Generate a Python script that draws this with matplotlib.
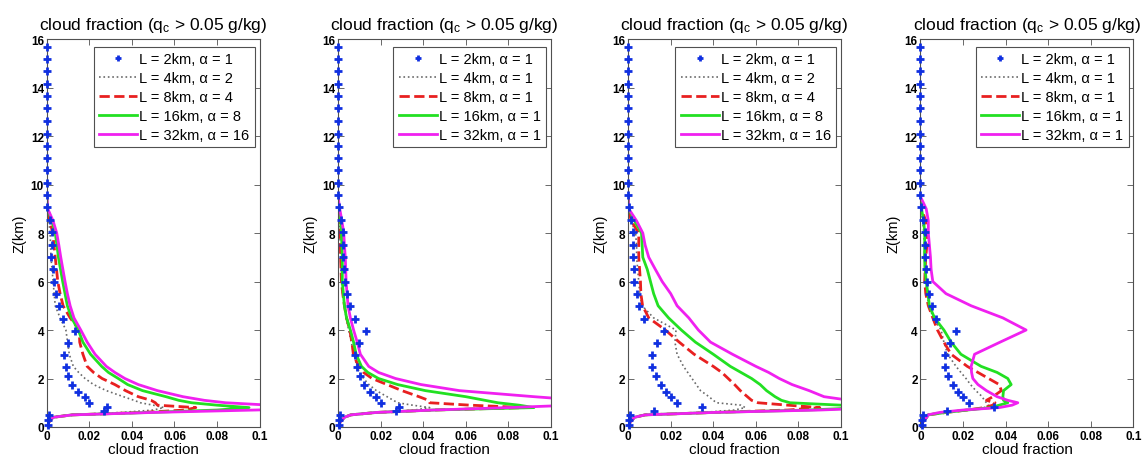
import matplotlib
matplotlib.use('Agg')
import matplotlib.pyplot as plt

plt.rcParams['font.family'] = ['Liberation Sans', 'DejaVu Sans']
plt.rcParams['mathtext.default'] = 'regular'

# heights (km) of the line profiles
z_line = [0.0, 0.2, 0.4, 0.5, 0.6, 0.7, 0.8, 0.9, 1.0, 1.1, 1.25, 1.5, 1.75, 2.0, 2.25,
          2.5, 3.0, 3.5, 4.0, 4.5, 5.0, 5.5, 6.0, 6.5, 7.0, 7.5, 8.0, 8.5, 9.0, 9.5]

# heights (km) of the L = 2km markers
z_plus = [0.07, 0.27, 0.48, 0.66, 0.81, 0.99, 1.24, 1.45, 1.74, 2.1, 2.48, 2.96, 3.48,
          3.98, 4.47, 5.0, 5.5, 6.0, 6.5, 7.0, 7.51, 8.03, 8.54, 9.07, 9.56, 10.06,
          10.58, 11.1, 11.6, 12.1, 12.63, 13.15, 13.65, 14.16, 14.68, 15.16, 15.66]

plus_a = [0.0005, 0.0005, 0.001, 0.027, 0.0285, 0.020, 0.018, 0.0148, 0.012, 0.0102,
          0.0089, 0.0082, 0.010, 0.0133, 0.0078, 0.0056, 0.0044, 0.0035, 0.003, 0.0021,
          0.0023, 0.0023, 0.0015, 0.0003, 0, 0, 0, 0, 0, 0, 0, 0, 0, 0, 0, 0, 0]
plus_b = [0.0005, 0.0005, 0.001, 0.0123, 0.0345, 0.023, 0.020, 0.0177, 0.0155, 0.013,
          0.0114, 0.0114, 0.0138, 0.0168, 0.0074, 0.0052, 0.004, 0.003, 0.0027, 0.0021,
          0.0022, 0.0023, 0.0012, 0.0003, 0, 0, 0, 0, 0, 0, 0, 0, 0, 0, 0, 0, 0]

# panel 1
p1_4km = [0, 0.001, 0.003, 0.010, 0.035, 0.050, 0.055, 0.050, 0.044, 0.041, 0.036, 0.028, 0.022, 0.018, 0.015,
          0.0125, 0.0106, 0.0098, 0.009, 0.0063, 0.004, 0.0035, 0.003, 0.0025, 0.002, 0.0018, 0.0016, 0.001, 0.0002, 0]
p1_8km = [0, 0.001, 0.003, 0.012, 0.045, 0.065, 0.070, 0.052, 0.051, 0.049, 0.043, 0.037, 0.032, 0.026, 0.022,
          0.019, 0.017, 0.0155, 0.0153, 0.011, 0.0077, 0.0063, 0.0052, 0.0046, 0.004, 0.0034, 0.0028, 0.0015, 0.0002, 0]
p1_16km = [0, 0.001, 0.003, 0.012, 0.048, 0.080, 0.095, 0.080, 0.068, 0.062, 0.056, 0.045, 0.038, 0.0336, 0.029,
           0.0258, 0.0206, 0.017, 0.0148, 0.0117, 0.0097, 0.0086, 0.0075, 0.0065, 0.0055, 0.0048, 0.004, 0.0025, 0.0003, 0]
p1_32km = [0, 0.001, 0.003, 0.012, 0.050, 0.098, 0.140, 0.105, 0.084, 0.074, 0.064, 0.052, 0.043, 0.0367, 0.032,
           0.028, 0.0227, 0.019, 0.016, 0.0128, 0.011, 0.0097, 0.0086, 0.0076, 0.0066, 0.0057, 0.0047, 0.003, 0.0005, 0]

# panel 2
p2_4km = [0, 0.001, 0.003, 0.006, 0.018, 0.036, 0.043, 0.035, 0.028, 0.026, 0.023, 0.018, 0.0145, 0.012, 0.010,
          0.0088, 0.0075, 0.0062, 0.005, 0.0038, 0.003, 0.0022, 0.0016, 0.0014, 0.0012, 0.001, 0.0009, 0.0005, 0.0002, 0]
p2_8km = [0, 0.001, 0.003, 0.006, 0.018, 0.045, 0.088, 0.062, 0.043, 0.0425, 0.038, 0.030, 0.023, 0.016, 0.012,
          0.0097, 0.0072, 0.0065, 0.0055, 0.004, 0.003, 0.0022, 0.0016, 0.0014, 0.0012, 0.0011, 0.001, 0.0006, 0.0002, 0]
p2_16km = [0, 0.001, 0.003, 0.006, 0.018, 0.045, 0.092, 0.085, 0.075, 0.069, 0.060, 0.041, 0.028, 0.019, 0.014,
           0.011, 0.0085, 0.0073, 0.0058, 0.004, 0.003, 0.0025, 0.002, 0.002, 0.002, 0.0018, 0.0016, 0.0012, 0.0005, 0]
p2_32km = [0, 0.001, 0.003, 0.006, 0.018, 0.045, 0.080, 0.110, 0.130, 0.115, 0.092, 0.057, 0.039, 0.027, 0.019,
           0.0144, 0.0105, 0.009, 0.0073, 0.0058, 0.0047, 0.0042, 0.0038, 0.0036, 0.0034, 0.003, 0.0027, 0.0018, 0.0008, 0]

# panel 3
p3_4km = [0, 0.001, 0.003, 0.008, 0.035, 0.050, 0.055, 0.053, 0.0415, 0.040, 0.038, 0.034, 0.032, 0.030, 0.028,
          0.026, 0.023, 0.022, 0.0225, 0.012, 0.0066, 0.0055, 0.005, 0.0045, 0.004, 0.004, 0.0035, 0.0015, 0.0002, 0]
p3_8km = [0, 0.001, 0.003, 0.008, 0.040, 0.075, 0.090, 0.075, 0.061, 0.058, 0.056, 0.0527, 0.050, 0.047, 0.044,
          0.040, 0.031, 0.024, 0.0175, 0.0097, 0.0068, 0.006, 0.0058, 0.0054, 0.005, 0.005, 0.005, 0.0015, 0.0002, 0]
p3_16km = [0, 0.001, 0.003, 0.008, 0.040, 0.085, 0.110, 0.100, 0.076, 0.072, 0.069, 0.065, 0.062, 0.058, 0.053,
           0.048, 0.040, 0.0316, 0.025, 0.019, 0.0141, 0.012, 0.0105, 0.009, 0.0069, 0.0066, 0.0063, 0.003, 0.0003, 0]
p3_32km = [0, 0.001, 0.003, 0.008, 0.040, 0.090, 0.120, 0.130, 0.118, 0.104, 0.092, 0.085, 0.077, 0.071, 0.066,
           0.060, 0.049, 0.0387, 0.033, 0.0285, 0.023, 0.020, 0.016, 0.0128, 0.0097, 0.008, 0.0069, 0.004, 0.0003, 0]

# panel 4
p4_4km = [0, 0.001, 0.003, 0.0035, 0.012, 0.022, 0.030, 0.032, 0.031, 0.030, 0.029, 0.026, 0.0235, 0.0214, 0.019,
          0.0167, 0.0128, 0.011, 0.0097, 0.006, 0.004, 0.003, 0.0025, 0.002, 0.002, 0.0018, 0.0016, 0.001, 0.0003, 0]
p4_8km = [0, 0.001, 0.003, 0.0035, 0.012, 0.022, 0.030, 0.034, 0.035, 0.031, 0.034, 0.038, 0.037, 0.032, 0.027,
          0.022, 0.0144, 0.011, 0.008, 0.0058, 0.0037, 0.0025, 0.002, 0.0022, 0.0025, 0.003, 0.0034, 0.0025, 0.0005, 0]
p4_16km = [0, 0.001, 0.003, 0.0035, 0.012, 0.022, 0.033, 0.037, 0.041, 0.039, 0.0387, 0.039, 0.0426, 0.041, 0.036,
           0.0285, 0.019, 0.0144, 0.011, 0.0066, 0.0042, 0.0035, 0.0027, 0.0022, 0.0019, 0.002, 0.002, 0.0015, 0.0005, 0]
p4_32km = [0, 0.001, 0.003, 0.0035, 0.009, 0.020, 0.037, 0.043, 0.0457, 0.041, 0.036, 0.031, 0.027, 0.0246, 0.024,
           0.0238, 0.0254, 0.0374, 0.0496, 0.0387, 0.0238, 0.012, 0.0058, 0.005, 0.0047, 0.0042, 0.0037, 0.0037, 0.0027, 0]

plus_sets = [plus_a, plus_a, plus_b, plus_b]
panels = [[p1_4km, p1_8km, p1_16km, p1_32km],
          [p2_4km, p2_8km, p2_16km, p2_32km],
          [p3_4km, p3_8km, p3_16km, p3_32km],
          [p4_4km, p4_8km, p4_16km, p4_32km]]
sizes = [2, 4, 8, 16, 32]
alphas = [[1, 2, 4, 8, 16], [1, 1, 1, 1, 1], [1, 2, 4, 8, 16], [1, 1, 1, 1, 1]]

styles = [dict(ls=':', color='#6a6a6a', lw=1.2),
          dict(ls='--', color='#e82020', lw=2),
          dict(ls='-', color='#22e022', lw=2),
          dict(ls='-', color='#f020f0', lw=2)]

xticks = [0, 0.02, 0.04, 0.06, 0.08, 0.1]
xticklabels = ['0', '0.02', '0.04', '0.06', '0.08', '0.1']

fig = plt.figure(figsize=(11.42, 4.64), dpi=100)
lefts = [0.0409, 0.296, 0.550, 0.806]

for i in range(4):
    ax = fig.add_axes([lefts[i], 0.0776, 0.1865, 0.836])
    labs = [f'L = {s}km, \u03b1 = {a}' for s, a in zip(sizes, alphas[i])]
    ax.plot(plus_sets[i], z_plus, '+', color='#1030e0', ms=6, mew=2,
            clip_on=False, label=labs[0], zorder=3)
    for prof, st, lab in zip(panels[i], styles, labs[1:]):
        ax.plot(prof, z_line, label=lab, **st)
    ax.set_xlim(0, 0.1)
    ax.set_ylim(0, 16)
    ax.set_xticks(xticks)
    ax.set_xticklabels(xticklabels)
    ax.set_yticks(range(0, 17, 2))
    ax.tick_params(direction='in', top=True, right=True, length=4, width=0.6,
                   color='#505050', labelsize=8.5, pad=2)
    for t in ax.get_xticklabels() + ax.get_yticklabels():
        t.set_fontweight('bold')
    for sp in ax.spines.values():
        sp.set_linewidth(0.8)
        sp.set_color('#505050')
    ax.set_title(r'cloud fraction (q$_c$ > 0.05 g/kg)', fontsize=12.5, pad=7)
    ax.set_xlabel('cloud fraction', fontsize=11, labelpad=0)
    ax.set_ylabel('Z(km)', fontsize=10.5, labelpad=3)
    leg = ax.legend(loc='upper right', bbox_to_anchor=(0.978, 0.98), borderaxespad=0,
                    fontsize=10.5, numpoints=1, handlelength=2.6, handletextpad=0.15,
                    labelspacing=0.33, borderpad=0.38, fancybox=False, framealpha=1,
                    markerscale=0.8)
    leg.get_frame().set_edgecolor('#505050')
    leg.get_frame().set_linewidth(0.8)

fig.savefig('out.png', dpi=100)
